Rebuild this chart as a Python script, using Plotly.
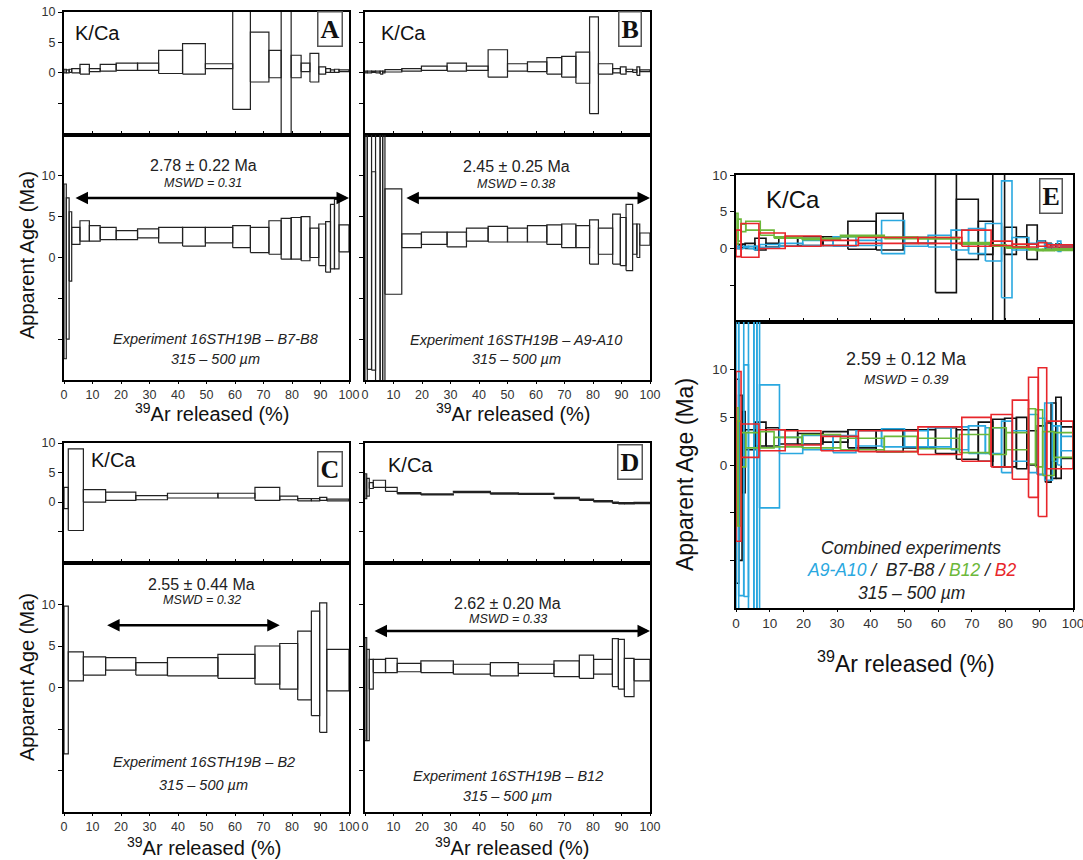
import plotly.graph_objects as go

# ---------------- data (cumulative 39Ar %, age, 2s err, K/Ca, err) ----------------
# A : B7-B8
cumA = [0.8, 1.8, 2.7, 5.6, 8.9, 12.7, 18.3, 25.8, 33.2, 41.6, 49.6, 59.2, 65.4, 71.9,
        76.2, 79.7, 83.2, 86.3, 89.4, 91.8, 93.5, 94.9, 96.5, 100]
ageA = [-1.7, -1.35, 1.35, 2.65, 3.25, 2.95, 2.95, 2.75, 2.95, 2.75, 2.55, 2.75, 2.55, 2.15,
        2.45, 2.3, 2.35, 2.3, 1.8, 1.55, 1.3, 2.55, 2.85, 2.35]
errA = [10.7, 8.65, 4.25, 1.05, 1.25, 0.95, 0.75, 0.55, 0.55, 0.95, 1.15, 0.95, 1.35, 1.55,
        2.05, 2.5, 2.55, 2.7, 1.8, 2.55, 3.1, 3.95, 4.25, 1.65]
kcaA = [0.3, 0.25, 0.35, 0.35, 0.6, 0.45, 0.85, 1.0, 1.0, 1.8, 2.3, 1.1, 4.0, 2.6,
        1.45, 0.0, 1.05, 0.9, 0.85, 0.4, 0.4, 0.3, 0.35, 0.35]
kerrA = [0.3, 0.25, 0.25, 0.35, 0.8, 0.25, 0.55, 0.6, 0.6, 1.9, 2.5, 0.4, 10.0, 4.1,
         2.25, 40.0, 1.85, 0.7, 2.35, 0.6, 0.3, 0.2, 0.25, 0.15]

# B : A9-A10
cumB = [0.8, 2.3, 3.7, 5.3, 6.2, 7.0, 12.9, 19.8, 28.8, 35.6, 43.2, 50.0, 57.0, 63.8, 69.0,
        74.0, 78.8, 81.9, 86.9, 89.6, 91.6, 93.9, 95.4, 96.4, 100]
ageB = [0.0, 8.15, -1.65, 0.0, 0.0, 0.0, 1.95, 2.05, 2.35, 2.2, 2.8, 2.85, 2.75, 2.9, 2.8,
        2.65, 2.55, 1.9, 2.0, 2.25, 1.95, 2.45, 2.25, 2.05, 2.25]
errB = [40.0, 21.85, 12.15, 40.0, 40.0, 40.0, 6.45, 0.85, 0.75, 0.9, 0.8, 0.95, 0.85, 1.0, 1.2,
        1.45, 1.35, 2.7, 1.6, 3.05, 2.95, 4.05, 1.85, 2.05, 0.75]
kcaB = [0.15, 0.15, 0.2, 0.15, 0.05, 0.15, 0.35, 0.5, 0.75, 0.95, 0.75, 1.55, 0.9, 1.0, 1.15,
        1.0, 0.85, 1.25, 0.65, 0.35, 0.4, 0.4, 0.3, 0.3, 0.35]
kerrB = [0.15, 0.15, 0.1, 0.15, 0.25, 0.15, 0.2, 0.2, 0.35, 0.65, 0.35, 2.25, 0.6, 0.8, 1.35,
         1.7, 2.55, 7.95, 0.85, 0.35, 0.6, 0.2, 0.2, 0.7, 0.15]

# C : B2
cumC = [1.5, 6.8, 14.6, 25.2, 36.3, 54.0, 67.0, 75.7, 82.0, 86.8, 89.7, 92.2, 100]
ageC = [0.9, 2.55, 2.6, 2.85, 2.25, 2.5, 2.55, 2.7, 2.55, 2.65, 2.9, 2.4, 2.1]
errC = [8.9, 1.75, 1.1, 0.75, 0.75, 1.1, 1.45, 2.3, 2.75, 4.15, 6.3, 7.8, 2.5]
kcaC = [0.7, 2.1, 1.05, 1.0, 0.75, 1.1, 1.1, 1.4, 0.7, 0.4, 0.4, 0.55, 0.35]
kerrC = [1.8, 6.9, 1.05, 0.7, 0.35, 0.4, 0.4, 1.1, 0.3, 0.2, 0.2, 0.25, 0.15]
# B2 K/Ca as drawn in the combined panel E
kcaC_E = [0.7, 1.1, 1.05, 1.0, 0.75, 1.1, 1.1, 1.4, 0.7, 0.4, 0.4, 0.55, 0.35]
kerrC_E = [1.8, 2.3, 1.05, 0.7, 0.35, 0.4, 0.4, 1.1, 0.3, 0.2, 0.2, 0.25, 0.15]

# D : B12
cumD = [0.6, 1.5, 2.9, 7.2, 11.3, 19.6, 31.0, 44.0, 53.8, 66.3, 75.2, 80.2, 86.8, 88.9,
        91.0, 94.4, 100]
ageD = [-0.2, -0.9, 1.6, 2.6, 2.65, 2.4, 2.5, 2.2, 2.2, 2.25, 2.25, 2.5, 2.5, 3.0, 2.8, 1.2, 2.1]
errD = [6.2, 5.5, 1.8, 0.8, 0.85, 0.5, 0.7, 0.6, 0.8, 0.55, 0.95, 1.4, 0.9, 2.9, 3.0, 2.3, 1.3]
kcaD = [2.7, 2.5, 2.8, 3.1, 2.15, 1.5, 1.3, 1.7, 1.45, 1.4, 0.7, 0.4, 0.15, -0.1, -0.2, -0.2, -0.15]
kerrD = [2.1, 1.5, 0.5, 0.6, 0.35, 0.1, 0.1, 0.1, 0.1, 0.1, 0.1, 0.1, 0.1, 0.1, 0.1, 0.1, 0.1]

plateau = {"A": [3.5, 100, 7.3], "B": [14.0, 100, 7.3], "C": [14.6, 75.7, 7.5], "D": [2.8, 100, 6.8]}
ages_txt = {"A": "2.78 ± 0.22 Ma", "B": "2.45 ± 0.25 Ma", "C": "2.55 ± 0.44 Ma",
            "D": "2.62 ± 0.20 Ma", "E": "2.59 ± 0.12 Ma"}
mswd_txt = {"A": "MSWD = 0.31", "B": "MSWD = 0.38", "C": "MSWD = 0.32", "D": "MSWD = 0.33",
            "E": "MSWD = 0.39"}
exp_txt = {"A": "Experiment 16STH19B – B7-B8", "B": "Experiment 16STH19B – A9-A10",
           "C": "Experiment 16STH19B – B2", "D": "Experiment 16STH19B – B12"}
xticks = [0, 10, 20, 30, 40, 50, 60, 70, 80, 90, 100]

CYAN, BLACK, GREEN, RED = "#2aa8e0", "#111111", "#6cb83a", "#e8262b"

W, H = 1083, 860


def boxes(cum, vals, errs):
    xs, ys = [], []
    prev = 0.0
    for c, v, e in zip(cum, vals, errs):
        lo, hi = v - e, v + e
        xs += [prev, c, c, prev, prev, None]
        ys += [lo, lo, hi, hi, lo, None]
        prev = c
    return xs, ys


fig = go.Figure()
layout = {}


def dom(p0, p1, total, flip=False):
    if flip:
        return [1 - p1 / total, 1 - p0 / total]
    return [p0 / total, p1 / total]


def add_axes(n, xpx, ypx, yrange, kind, ylabels, big=False):
    xk = "xaxis" if n == 1 else f"xaxis{n}"
    yk = "yaxis" if n == 1 else f"yaxis{n}"
    tf = dict(family="Liberation Sans, Arial", size=13.5 if big else 12.5, color="#333")
    xa = dict(domain=dom(*xpx, W), range=[0, 100], anchor=f"y{n}", showline=True, mirror=True,
              linewidth=2, linecolor="black", showgrid=False, zeroline=False,
              tickvals=xticks, tickcolor="black", tickfont=tf, fixedrange=True,
              automargin=False, ticklabeloverflow="allow")
    if kind == "kca":
        xa.update(ticks="inside", ticklen=4, showticklabels=False)
        yv = [-5, 0, 5, 10]
        yt = ["", "0", "5", "10"]
    else:
        xa.update(ticks="outside", ticklen=2, showticklabels=True,
                  ticktext=[str(t) for t in xticks])
        yv = [-10, -5, 0, 5, 10]
        yt = ["", "", "0", "5", "10"]
    ya = dict(domain=dom(*ypx, H, flip=True), range=yrange, anchor=f"x{n}", showline=True,
              mirror=True, linewidth=2, linecolor="black", showgrid=False, zeroline=False,
              tickvals=yv, ticktext=yt, ticks="outside", ticklen=4, tickcolor="black",
              tickfont=tf, showticklabels=ylabels, fixedrange=True, automargin=False,
              ticklabeloverflow="allow")
    layout[xk] = xa
    layout[yk] = ya


panels = {
    "A": dict(x=(64, 349), k=(12, 135), a=(135, 380), n=1, ylab=True, kr=[-10.2, 10]),
    "B": dict(x=(365, 650), k=(12, 135), a=(135, 380), n=3, ylab=False, kr=[-10.2, 10]),
    "C": dict(x=(64, 349), k=(443, 563), a=(563, 812), n=5, ylab=True, kr=[-10.3, 10]),
    "D": dict(x=(365, 650), k=(443, 563), a=(563, 812), n=7, ylab=False, kr=[-10.3, 10]),
    "E": dict(x=(736, 1073), k=(175, 322), a=(322, 608), n=9, ylab=True, kr=[-10, 10]),
}
for key, p in panels.items():
    big = key == "E"
    add_axes(p["n"], p["x"], p["k"], p["kr"], "kca", p["ylab"], big)
    add_axes(p["n"] + 1, p["x"], p["a"], [-15, 15], "age", p["ylab"], big)

data = {
    "A": (cumA, ageA, errA, kcaA, kerrA),
    "B": (cumB, ageB, errB, kcaB, kerrB),
    "C": (cumC, ageC, errC, kcaC, kerrC),
    "D": (cumD, ageD, errD, kcaD, kerrD),
}
data_E = dict(data)
data_E["C"] = (cumC, ageC, errC, kcaC_E, kerrC_E)


def add_exp(src, key, n, color, width):
    cum, age, err, kca, kerr = src[key]
    kx, ky = boxes(cum, kca, kerr)
    ax, ay = boxes(cum, age, err)
    xs = "x" if n == 1 else f"x{n}"
    ys = "y" if n == 1 else f"y{n}"
    fig.add_trace(go.Scatter(x=kx, y=ky, mode="lines", line=dict(color=color, width=width),
                             xaxis=xs, yaxis=ys, showlegend=False, hoverinfo="skip"))
    fig.add_trace(go.Scatter(x=ax, y=ay, mode="lines", line=dict(color=color, width=width),
                             xaxis=f"x{n+1}", yaxis=f"y{n+1}", showlegend=False, hoverinfo="skip"))


for key in ["A", "B", "C", "D"]:
    add_exp(data, key, panels[key]["n"], "#222222", 1.2)

for key, col in [("A", BLACK), ("B", CYAN), ("D", GREEN), ("C", RED)]:
    add_exp(data_E, key, 9, col, 1.6)

ann = []
FS = "Liberation Sans, Arial"


def txt(text, x, y, xr, yr, size, italic=False, color="#222", **kw):
    t = f"<i>{text}</i>" if italic else text
    d = dict(text=t, x=x, y=y, xref=xr, yref=yr, showarrow=False, xanchor="center",
             yanchor="middle", font=dict(family=FS, size=size, color=color))
    d.update(kw)
    ann.append(d)


text_pos = {
    "A": dict(c=48.8, ay=11.3, my=9.1, ex=53, e1=-10.0, e2=-12.4),
    "B": dict(c=53, ay=11.1, my=9.0, ex=53, e1=-10.1, e2=-12.4),
    "C": dict(c=48.4, ay=12.4, my=10.5, ex=49, e1=-9.0, e2=-11.7),
    "D": dict(c=50, ay=10.1, my=8.2, ex=50, e1=-10.7, e2=-13.1),
}
for key, tp in text_pos.items():
    n = panels[key]["n"] + 1
    xr, yr = f"x{n}", f"y{n}"
    txt(ages_txt[key], tp["c"], tp["ay"], xr, yr, 16)
    txt(mswd_txt[key], tp["c"], tp["my"], xr, yr, 12.5, italic=True)
    txt(exp_txt[key], tp["ex"], tp["e1"], xr, yr, 14.5, italic=True)
    txt("315 – 500 µm", tp["ex"], tp["e2"], xr, yr, 14.5, italic=True)
    x0, x1, yy = plateau[key]
    ann.append(dict(x=x1, y=yy, ax=x0, ay=yy, xref=xr, yref=yr, axref=xr, ayref=yr, text="",
                    showarrow=True, arrowhead=2, startarrowhead=2, arrowside="end+start",
                    arrowsize=1.0, arrowwidth=2.5, arrowcolor="black"))

# Panel E texts
txt(ages_txt["E"], 50.7, 11.1, "x10", "y10", 18)
txt(mswd_txt["E"], 50.7, 9.0, "x10", "y10", 13.5, italic=True)
txt("Combined experiments", 52, -8.7, "x10", "y10", 17.5, italic=True)
txt(f"<span style='color:{CYAN}'>A9-A10</span> /  B7-B8 / <span style='color:{GREEN}'>B12</span>"
    f" / <span style='color:{RED}'>B2</span>", 52, -11.0, "x10", "y10", 17.5, italic=True)
txt("315 – 500 µm", 52, -13.4, "x10", "y10", 17.5, italic=True)


def ptxt(text, px, py, size, **kw):
    d = dict(text=text, x=px / W, y=1 - py / H, xref="paper", yref="paper", showarrow=False,
             xanchor="center", yanchor="middle", font=dict(family=FS, size=size, color="#111"))
    d.update(kw)
    ann.append(d)


for px, py, s in [(97, 33, 20), (403, 33, 20), (113, 460, 20), (410, 465, 20), (793, 200, 24)]:
    ptxt("K/Ca", px, py, s)

for lab, px, py, s in [("A", 330, 29, 26), ("B", 630, 29, 26), ("C", 330, 469, 26),
                       ("D", 630, 462, 26), ("E", 1051, 196, 26)]:
    d = dict(text=f"<b>{lab}</b>", x=px / W, y=1 - py / H, xref="paper", yref="paper",
             xanchor="center", yanchor="middle", showarrow=False,
             font=dict(family="Liberation Serif, DejaVu Serif", size=s, color="#111"),
             bordercolor="#555", borderwidth=1.5, borderpad=2, bgcolor="white")
    ann.append(d)

for px, py, s in [(27, 255, 20), (27, 677, 20), (685, 475, 23)]:
    ptxt("Apparent Age (Ma)", px, py, s, textangle=-90)

for px, py, s in [(212, 412, 20), (513, 412, 20), (204, 846, 20), (512, 846, 20), (906, 662, 23)]:
    ptxt("<sup>39</sup>Ar released (%)", px, py, s)

fig.update_layout(width=W, height=H, margin=dict(l=0, r=0, t=0, b=0, pad=0, autoexpand=False),
                  paper_bgcolor="white", plot_bgcolor="white", showlegend=False,
                  annotations=ann, **layout)
fig.write_html("out.html", config={"displayModeBar": False},
               post_script="document.body.style.margin='0px';document.body.style.overflow='hidden';")
